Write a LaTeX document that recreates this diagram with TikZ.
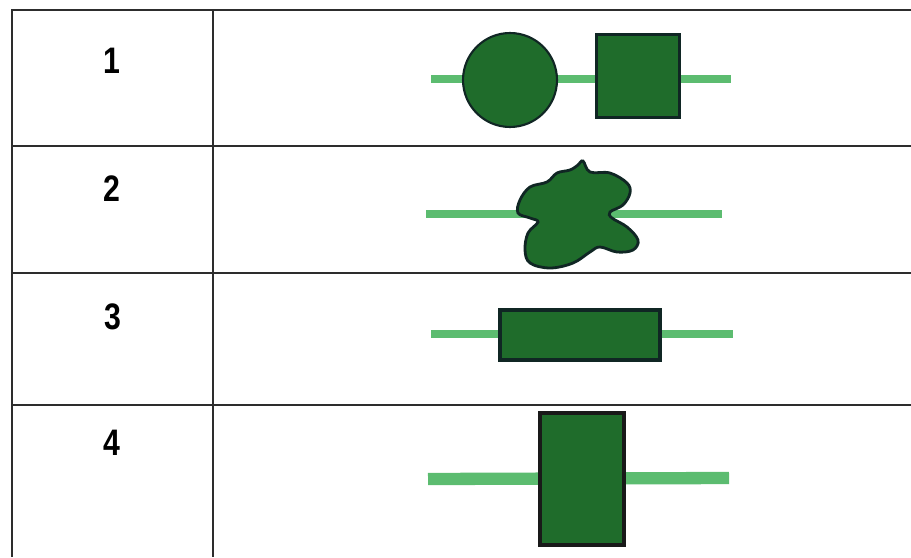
\documentclass[tikz,border=0pt]{standalone}
\usepackage{fontspec}
\setmainfont{Liberation Sans}
\usepackage{tikz}
\usetikzlibrary{positioning, calc}

\definecolor{cellgreen}{RGB}{31,108,43}
\definecolor{trackgreen}{RGB}{92,188,112}
\definecolor{rimdark}{RGB}{16,38,36}
\definecolor{gridgray}{RGB}{45,45,45}

\begin{document}
\begin{tikzpicture}[
        x=0.02cm, y=-0.02cm,
        grid/.style={gridgray, line width=1.1pt},
        track/.style={trackgreen, line width=5pt},
        body/.style={fill=cellgreen, draw=rimdark, line width=1.2pt, inner sep=0pt},
        rowlabel/.style={font=\bfseries\fontsize{21}{24}\selectfont, xscale=0.82}
    ]
        \useasboundingbox (0,0) rectangle (911,557);
        % table
        \draw[grid] (12,557) -- (12,10) -- (911,10);
        \draw[grid] (213,10) -- (213,557);
        \foreach \y in {146,273,405} \draw[grid] (12,\y) -- (911,\y);
        \node[rowlabel] (lab1) at (112,61) {1};
        \node[rowlabel] (lab2) at (112,189) {2};
        \node[rowlabel] (lab3) at (113,317) {3};
        \node[rowlabel] (lab4) at (112,443) {4};
        % row 1
        \coordinate (a1) at (431,79); \coordinate (b1) at (731,79);
        \draw[track] (a1) -- (b1);
        \node[body, circle, minimum size=1.88cm] (ball) at (510,80) {};
        \node[body, rectangle, minimum size=1.66cm] (cube) at (638,76) {};
        % row 2
        \coordinate (a2) at (426,214); \coordinate (b2) at (722,214);
        \draw[track] (a2) -- (b2);
        \draw[fill=cellgreen, draw=rimdark, line width=1.6pt] plot[smooth cycle, tension=0.6] coordinates {
            (583,161) (590,172) (610,173) (627,183) (630,193) (623,205) (610,212) (612,218)
            (627,227) (638,240) (633,250) (617,252) (600,247) (590,252) (573,263) (550,268)
            (530,263) (525,250) (528,233) (538,222) (530,218) (518,213) (520,200) (530,187)
            (547,182) (557,173) (570,170) (578,165)};
        % row 3
        \coordinate (a3) at (431,334); \coordinate (b3) at (733,334);
        \draw[track] (a3) -- (b3);
        \node[body, rectangle, line width=1.8pt, minimum width=3.2cm, minimum height=1cm] (bar) at (580,335) {};
        % row 4
        \coordinate (a4) at (428,479); \coordinate (b4) at (729,478);
        \draw[track, line width=7pt] (a4) -- (b4);
        \node[body, rectangle, draw=black!90, line width=2.4pt, minimum width=1.68cm, minimum height=2.64cm] (slab) at (582,479) {};
\end{tikzpicture}
\end{document}
